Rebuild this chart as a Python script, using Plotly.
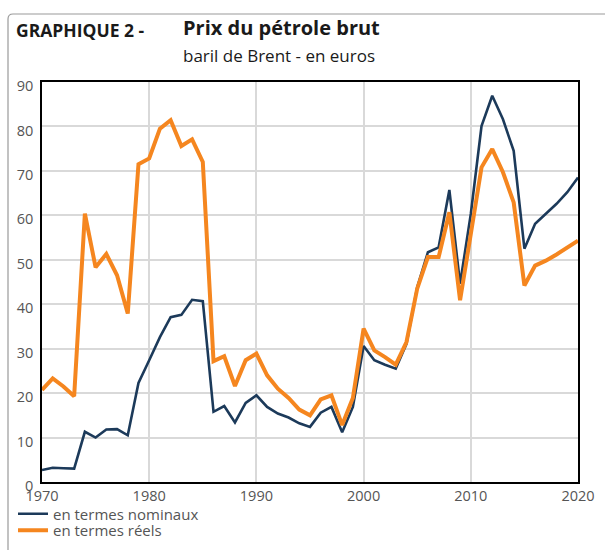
import plotly.graph_objects as go

years = list(range(1970, 2021))
nominal = [2.7, 3.2, 3.1, 3.0, 11.3, 10.0, 11.8, 11.9, 10.5, 22.3,
           27.4, 32.6, 37.1, 37.6, 41.0, 40.7, 15.8, 17.1, 13.4, 17.8,
           19.5, 16.9, 15.4, 14.5, 13.2, 12.4, 15.6, 16.9, 11.2, 16.9,
           30.6, 27.4, 26.4, 25.5, 31.1, 43.8, 51.7, 52.8, 65.7, 44.6,
           60.3, 80.1, 86.9, 81.6, 74.5, 52.5, 58.1, 60.3, 62.6, 65.2,
           68.5]
reel = [20.7, 23.3, 21.5, 19.3, 60.4, 48.3, 51.3, 46.5, 37.9, 71.5,
        72.8, 79.5, 81.4, 75.6, 77.1, 72.0, 27.2, 28.3, 21.6, 27.4,
        28.9, 24.0, 21.0, 18.9, 16.3, 15.0, 18.6, 19.5, 12.8, 18.9,
        34.5, 29.6, 28.1, 26.4, 31.5, 43.5, 50.6, 50.6, 60.7, 40.9,
        55.8, 70.8, 74.9, 69.7, 62.9, 44.2, 48.7, 49.8, 51.2, 52.7,
        54.3]
x_ticks = [1970, 1980, 1990, 2000, 2010, 2020]
y_ticks = [0, 10, 20, 30, 40, 50, 60, 70, 80, 90]

FONT = "Open Sans"
NAVY = "#1c3a5a"
ORANGE = "#f5861f"

W, H = 605, 550
L, R, T, B = 42, 27, 82, 68
PW, PH = W - L - R, H - T - B

def px(x):
    return (x - L) / PW

def py(y):
    return (H - B - y) / PH

fig = go.Figure()
fig.add_trace(go.Scatter(x=years, y=nominal, mode="lines", name="en termes nominaux",
                         line=dict(color=NAVY, width=2.6), legend="legend", showlegend=True))
fig.add_trace(go.Scatter(x=years, y=reel, mode="lines", name="en termes réels",
                         line=dict(color=ORANGE, width=4), legend="legend2", showlegend=True))

leg_common = dict(xanchor="left", yanchor="middle", bgcolor="rgba(0,0,0,0)",
                  borderwidth=0, font=dict(family=FONT, size=15, color="#555555"))
fig.update_layout(
    width=W, height=H, showlegend=True,
    margin=dict(l=L, r=R, t=T, b=B, autoexpand=False),
    paper_bgcolor="white", plot_bgcolor="white",
    font=dict(family=FONT, size=14, color="#555555"),
    legend=dict(x=px(13), y=py(514), **leg_common),
    legend2=dict(x=px(13), y=py(530.5), **leg_common),
    xaxis=dict(range=[1970, 2020], tickvals=x_ticks, showgrid=True,
               gridcolor="#d9d9d9", gridwidth=2, showline=True, mirror=True,
               linecolor="black", linewidth=1.5, ticks="", zeroline=False,
               automargin=False, tickfont=dict(size=14.5, color="#555555")),
    yaxis=dict(range=[0, 90], tickvals=y_ticks, showgrid=True,
               gridcolor="#d9d9d9", gridwidth=2, showline=True, mirror=True,
               linecolor="black", linewidth=1.5, ticks="", zeroline=False,
               automargin=False, ticklabelshift=4, ticklabelstandoff=4,
               tickfont=dict(size=14.5, color="#555555")),
)

fig.add_annotation(text="<b>GRAPHIQUE 2 -</b>", x=px(14), y=py(30), xref="paper", yref="paper",
                   xanchor="left", yanchor="middle", showarrow=False,
                   font=dict(family=FONT, size=17.5, color="#1a1a1a"))
fig.add_annotation(text="<b>Prix du pétrole brut</b>", x=px(181), y=py(27), xref="paper", yref="paper",
                   xanchor="left", yanchor="middle", showarrow=False,
                   font=dict(family=FONT, size=20, color="#1a1a1a"))
fig.add_annotation(text="baril de Brent - en euros", x=px(181), y=py(55), xref="paper", yref="paper",
                   xanchor="left", yanchor="middle", showarrow=False,
                   font=dict(family=FONT, size=17, color="#1a1a1a"))

# rounded frame (top-left corner visible)
x0, y0 = px(8), py(14)
rx, ry = 5 / PW, 5 / PH
path = (f"M {x0},{py(560)} L {x0},{y0 - ry} Q {x0},{y0} {x0 + rx},{y0} L {px(620)},{y0}")
fig.add_shape(type="path", path=path, xref="paper", yref="paper",
              line=dict(color="#9a9a9a", width=1.2))

fig.write_html("out.html", config={"displayModeBar": False},
               post_script="document.body.style.margin='0';")
